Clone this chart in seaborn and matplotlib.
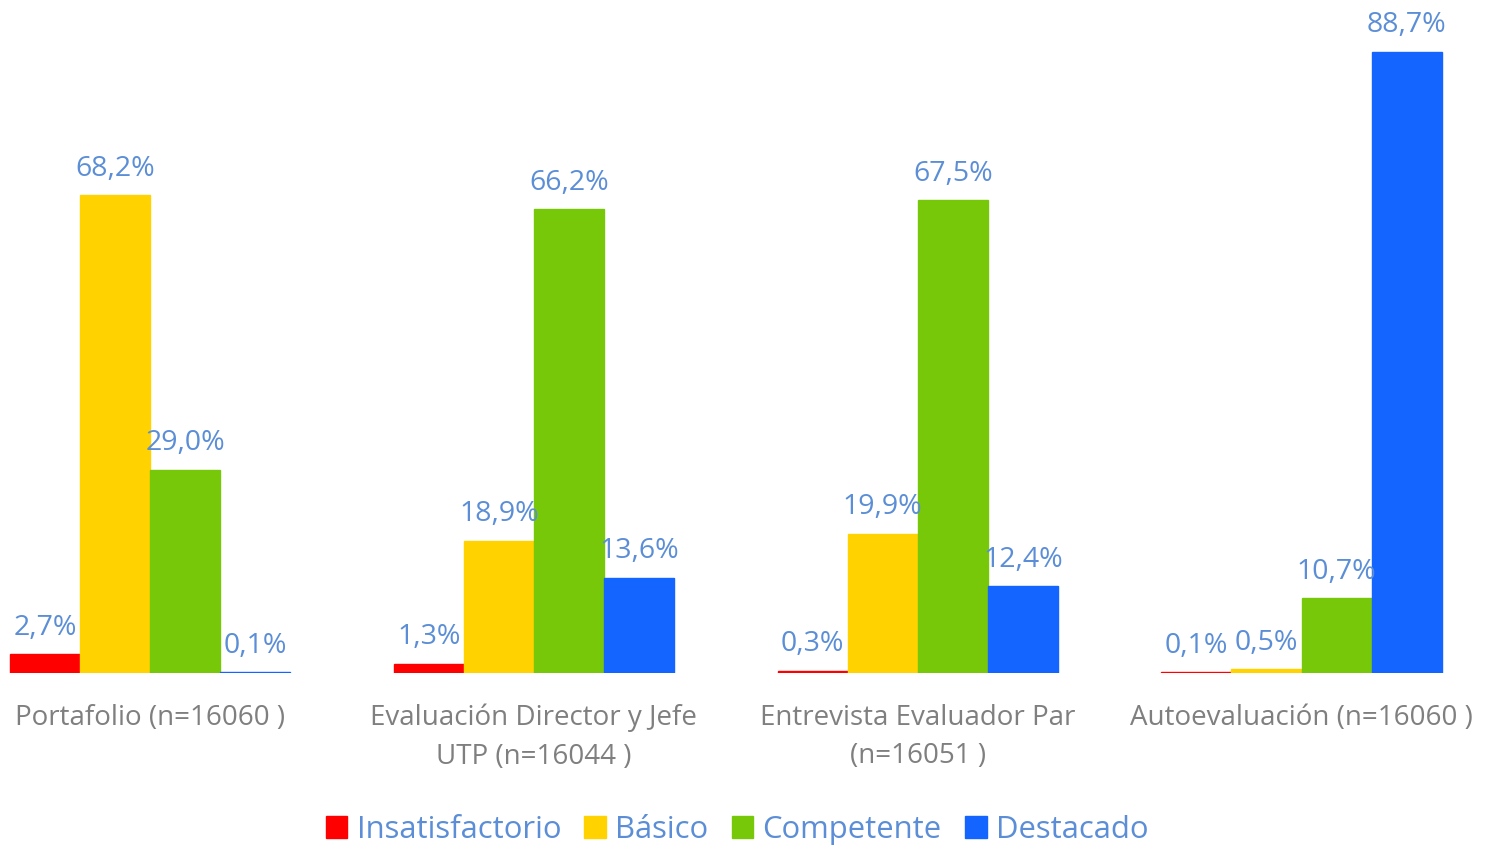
import pandas as pd
import seaborn as sns
import matplotlib.pyplot as plt

categories = ["Portafolio (n=16060 )",
              "Evaluación Director y Jefe\nUTP (n=16044 )",
              "Entrevista Evaluador Par\n(n=16051 )",
              "Autoevaluación (n=16060 )"]
levels = ["Insatisfactorio", "Básico", "Competente", "Destacado"]
insatisfactorio = [2.7, 1.3, 0.3, 0.1]
basico = [68.2, 18.9, 19.9, 0.5]
competente = [29.0, 66.2, 67.5, 10.7]
destacado = [0.1, 13.6, 12.4, 88.7]

colors = ["#FF0000", "#FFD200", "#78C80A", "#1464FF"]
label_color = "#5B8ED6"
tick_color = "#7F7F7F"

rows = []
for lvl, vals in zip(levels, [insatisfactorio, basico, competente, destacado]):
    for cat, v in zip(categories, vals):
        rows.append({"cat": cat, "nivel": lvl, "pct": v})
df = pd.DataFrame(rows)

sns.set_style("white")
plt.rcParams['font.family'] = ['Open Sans', 'DejaVu Sans']

fig = plt.figure(figsize=(14.85, 8.49), dpi=100)
ax = fig.add_axes([0, 1 - 673 / 849, 1, 673 / 849])

sns.barplot(data=df, x="cat", y="pct", hue="nivel", order=categories,
            hue_order=levels, palette=colors, width=0.73, saturation=1,
            linewidth=0, ax=ax, legend=False)

# thin bars (0,1%) still show as a line, like in Excel
for cont, c in zip(ax.containers, colors):
    for p in cont:
        p.set_edgecolor(c)
        p.set_linewidth(1)
    labels = [f"{v:.1f}%".replace(".", ",") for v in cont.datavalues]
    ax.bar_label(cont, labels=labels, padding=9, color=label_color, fontsize=20.5)

ax.set_xlim(-0.391, 3.478)
ax.set_ylim(0, 96.1)
ax.set_xlabel("")
ax.set_ylabel("")
ax.set_yticks([])
ax.tick_params(axis="x", length=0, pad=22, labelsize=20, labelcolor=tick_color)
for t in ax.get_xticklabels():
    t.set_linespacing(1.5)
for s in ax.spines.values():
    s.set_visible(False)

handles = [plt.Rectangle((0, 0), 1, 1, color=c) for c in colors]
fig.legend(handles, levels, loc="center", bbox_to_anchor=(737 / 1485, 1 - 830 / 849),
           ncol=4, frameon=False, fontsize=22.3, labelcolor=label_color,
           handlelength=0.7, handleheight=0.7, handletextpad=0.3, columnspacing=0.75)

fig.savefig("out.png", dpi=100)
